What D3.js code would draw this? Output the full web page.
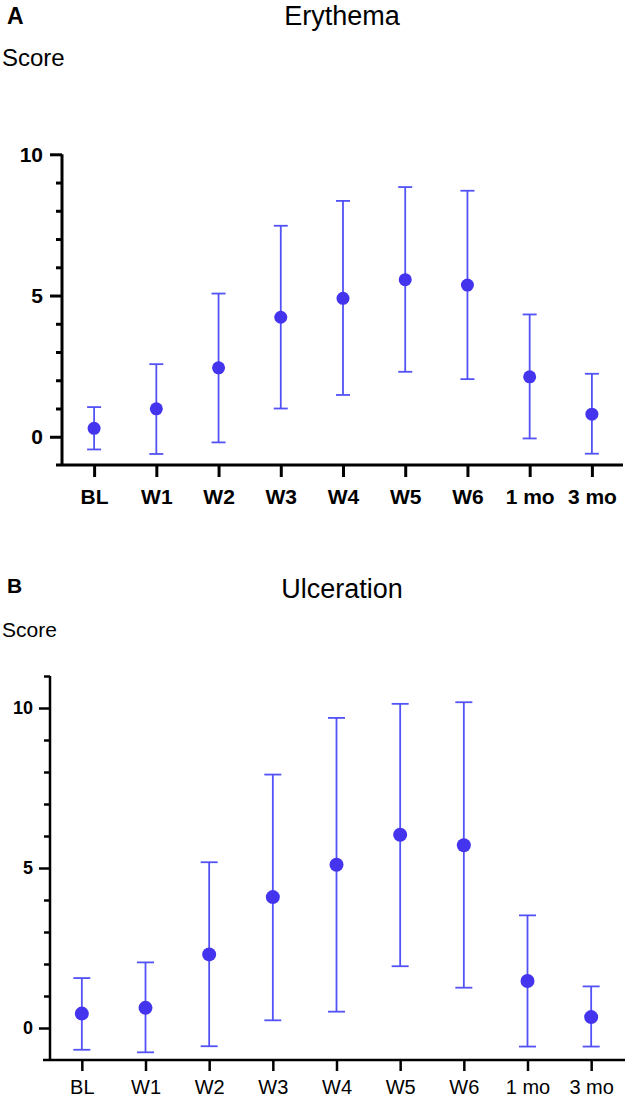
<!DOCTYPE html>
<html lang="en">
<head>
<meta charset="UTF-8">
<title>Erythema and Ulceration scores</title>
<script src="https://d3js.org/d3.v7.min.js"></script>
<style>
  body { margin: 0; background: #fff; }
  svg { display: block; font-family: "Liberation Sans", Arial, sans-serif; }
</style>
</head>
<body>
<div id="canvas"></div>
<script>
// time points
const categories = ["BL", "W1", "W2", "W3", "W4", "W5", "W6", "1 mo", "3 mo"];

// Erythema: mean and error bar ends
const erythemaMean = [0.30, 0.99, 2.44, 4.23, 4.90, 5.56, 5.37, 2.12, 0.80];
const erythemaLow  = [-0.45, -0.61, -0.20, 1.00, 1.48, 2.30, 2.04, -0.06, -0.60];
const erythemaHigh = [1.05, 2.57, 5.07, 7.47, 8.35, 8.84, 8.71, 4.33, 2.23];

// Ulceration: mean and error bar ends
const ulcerationMean = [0.45, 0.63, 2.30, 4.09, 5.10, 6.04, 5.71, 1.47, 0.34];
const ulcerationLow  = [-0.68, -0.76, -0.57, 0.24, 0.51, 1.93, 1.26, -0.58, -0.58];
const ulcerationHigh = [1.56, 2.05, 5.18, 7.92, 9.69, 10.13, 10.18, 3.52, 1.30];

const majorTicks = [0, 5, 10];

const dotColor = "#4434ee";
const barColor = "#5252f6";

const svg = d3.select("#canvas").append("svg")
  .attr("width", 625).attr("height", 1097);

function drawPanel(p) {
  const rows = categories.map((c, i) => ({ cat: c, mean: p.mean[i], lo: p.low[i], hi: p.high[i] }));

  const x = d3.scalePoint().domain(categories).range([p.x0, p.x1]).padding(0.5);
  const y = d3.scaleLinear().domain(p.yDomain).range([p.yBottom, p.yTop]);

  // panel letter, title, y label
  svg.append("text").attr("x", 7).attr("y", p.letterY)
    .attr("font-size", p.letterSize).attr("font-weight", "bold").text(p.letter);
  svg.append("text").attr("x", 342).attr("y", p.titleY).attr("text-anchor", "middle")
    .attr("font-size", p.titleSize).text(p.title);
  svg.append("text").attr("x", 2).attr("y", p.scoreY)
    .attr("font-size", p.scoreSize).text("Score");

  // minor ticks
  const minor = d3.range(p.yDomain[0] + 1, p.yDomain[1] + 1).filter(v => !majorTicks.includes(v));
  svg.append("g").attr("transform", `translate(${p.yAxisX},0)`)
    .call(d3.axisLeft(y).tickValues(minor).tickSize(6).tickFormat(""))
    .call(g => g.select(".domain").remove())
    .call(g => g.selectAll("line").attr("stroke", "#000").attr("stroke-width", p.axisW));

  // major ticks with labels
  svg.append("g").attr("transform", `translate(${p.yAxisX},0)`)
    .call(d3.axisLeft(y).tickValues(majorTicks).tickSize(p.tick).tickPadding(p.yPad).tickFormat(d3.format("d")))
    .call(g => g.select(".domain").remove())
    .call(g => g.selectAll("line").attr("stroke", "#000").attr("stroke-width", p.axisW))
    .call(g => g.selectAll("text").attr("font-size", p.yLabelSize).attr("font-weight", "bold")
      .attr("fill", "#000").attr("font-family", "Liberation Sans, Arial, sans-serif"));

  // x axis
  svg.append("g").attr("transform", `translate(0,${p.yBottom})`)
    .call(d3.axisBottom(x).tickSize(p.tick).tickPadding(p.xPad))
    .call(g => g.select(".domain").remove())
    .call(g => g.selectAll("line").attr("stroke", "#000").attr("stroke-width", p.axisW))
    .call(g => g.selectAll("text").attr("font-size", p.xLabelSize).attr("font-weight", p.xLabelWeight)
      .attr("fill", "#000").attr("font-family", "Liberation Sans, Arial, sans-serif"));

  // axis lines
  svg.append("line")
    .attr("x1", p.yAxisX).attr("x2", p.yAxisX)
    .attr("y1", y(p.yDomain[1])).attr("y2", y(p.yDomain[0]))
    .attr("stroke", "#000").attr("stroke-width", p.axisW);
  svg.append("line")
    .attr("x1", p.xAxisStart).attr("x2", p.xAxisEnd)
    .attr("y1", y(p.yDomain[0])).attr("y2", y(p.yDomain[0]))
    .attr("stroke", "#000").attr("stroke-width", p.axisW);

  // error bars
  const bars = svg.append("g").attr("stroke", barColor).attr("stroke-width", 1.8);
  bars.selectAll(".v").data(rows).join("line")
    .attr("x1", d => x(d.cat)).attr("x2", d => x(d.cat))
    .attr("y1", d => y(d.lo)).attr("y2", d => y(d.hi));
  bars.selectAll(".hi").data(rows).join("line")
    .attr("x1", d => x(d.cat) - p.cap / 2).attr("x2", d => x(d.cat) + p.cap / 2)
    .attr("y1", d => y(d.hi)).attr("y2", d => y(d.hi));
  bars.selectAll(".lo").data(rows).join("line")
    .attr("x1", d => x(d.cat) - p.cap / 2).attr("x2", d => x(d.cat) + p.cap / 2)
    .attr("y1", d => y(d.lo)).attr("y2", d => y(d.lo));

  // means
  svg.append("g").selectAll("circle").data(rows).join("circle")
    .attr("cx", d => x(d.cat)).attr("cy", d => y(d.mean))
    .attr("r", p.r).attr("fill", dotColor);
}

drawPanel({
  letter: "A", letterY: 24, letterSize: 23,
  title: "Erythema", titleY: 25, titleSize: 27,
  scoreY: 66, scoreSize: 24,
  mean: erythemaMean, low: erythemaLow, high: erythemaHigh,
  yDomain: [-1, 10], yBottom: 465, yTop: 154.3,
  x0: 63, x1: 623, yAxisX: 62, xAxisStart: 56, xAxisEnd: 623,
  axisW: 3, tick: 12, yPad: 7, xPad: 12,
  yLabelSize: 21, xLabelSize: 21, xLabelWeight: "bold",
  cap: 14, r: 6.5
});

drawPanel({
  letter: "B", letterY: 593, letterSize: 21,
  title: "Ulceration", titleY: 598, titleSize: 27,
  scoreY: 637, scoreSize: 21,
  mean: ulcerationMean, low: ulcerationLow, high: ulcerationHigh,
  yDomain: [-1, 11], yBottom: 1060, yTop: 676,
  x0: 50, x1: 623, yAxisX: 50, xAxisStart: 43, xAxisEnd: 625,
  axisW: 2.5, tick: 11, yPad: 6, xPad: 9,
  yLabelSize: 18, xLabelSize: 20, xLabelWeight: "normal",
  cap: 17, r: 7
});
</script>
</body>
</html>
